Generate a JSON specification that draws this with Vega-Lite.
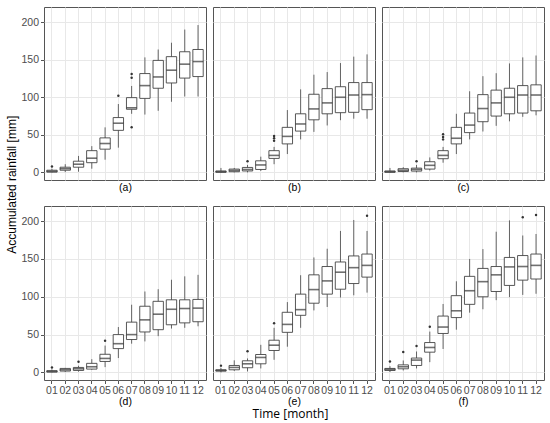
{
  "$schema": "https://vega.github.io/schema/vega-lite/v6.json",
  "background": "white",
  "padding": {"left": 6, "top": 6, "right": 5, "bottom": 4},
  "title": {"text": "Time [month]", "orient": "bottom", "anchor": "middle", "fontSize": 12, "fontWeight": "normal", "font": "Open Sans", "color": "black", "offset": 2, "dx": 15},
  "datasets": {
    "boxes": [
      {"panel": "a", "month": "01", "lower": 0, "q1": 0.5, "median": 1.5, "q3": 3, "upper": 5},
      {"panel": "a", "month": "02", "lower": 0.5, "q1": 3, "median": 5, "q3": 7, "upper": 11},
      {"panel": "a", "month": "03", "lower": 1, "q1": 7, "median": 11, "q3": 15, "upper": 22},
      {"panel": "a", "month": "04", "lower": 5, "q1": 13, "median": 19, "q3": 29, "upper": 35},
      {"panel": "a", "month": "05", "lower": 17, "q1": 31, "median": 38.5, "q3": 46, "upper": 60},
      {"panel": "a", "month": "06", "lower": 33, "q1": 56, "median": 65.5, "q3": 73, "upper": 91},
      {"panel": "a", "month": "07", "lower": 78, "q1": 84, "median": 86, "q3": 99.5, "upper": 115},
      {"panel": "a", "month": "08", "lower": 77, "q1": 98.5, "median": 115.5, "q3": 131.5, "upper": 153},
      {"panel": "a", "month": "09", "lower": 82, "q1": 112, "median": 127, "q3": 149, "upper": 163.5},
      {"panel": "a", "month": "10", "lower": 94, "q1": 119, "median": 136, "q3": 154, "upper": 172.5},
      {"panel": "a", "month": "11", "lower": 101, "q1": 125.5, "median": 144, "q3": 160.5, "upper": 190},
      {"panel": "a", "month": "12", "lower": 101, "q1": 127.5, "median": 147.5, "q3": 163.5, "upper": 196},
      {"panel": "b", "month": "01", "lower": 0, "q1": 0.3, "median": 1, "q3": 2, "upper": 6},
      {"panel": "b", "month": "02", "lower": 0, "q1": 1, "median": 2.7, "q3": 4.5, "upper": 6},
      {"panel": "b", "month": "03", "lower": 0, "q1": 2, "median": 4, "q3": 6.7, "upper": 10},
      {"panel": "b", "month": "04", "lower": 2, "q1": 4, "median": 10, "q3": 15.5, "upper": 21},
      {"panel": "b", "month": "05", "lower": 11, "q1": 18.7, "median": 22.7, "q3": 29, "upper": 34},
      {"panel": "b", "month": "06", "lower": 24.5, "q1": 38, "median": 48, "q3": 60, "upper": 83},
      {"panel": "b", "month": "07", "lower": 44, "q1": 55, "median": 64.5, "q3": 78, "upper": 110.5},
      {"panel": "b", "month": "08", "lower": 54, "q1": 70, "median": 84.5, "q3": 104, "upper": 130},
      {"panel": "b", "month": "09", "lower": 62.5, "q1": 78, "median": 92.5, "q3": 111.5, "upper": 133.5},
      {"panel": "b", "month": "10", "lower": 69.5, "q1": 79.5, "median": 100, "q3": 114, "upper": 145.5},
      {"panel": "b", "month": "11", "lower": 71.5, "q1": 80, "median": 103, "q3": 119.5, "upper": 154},
      {"panel": "b", "month": "12", "lower": 71.5, "q1": 83.5, "median": 103.5, "q3": 119.5, "upper": 157},
      {"panel": "c", "month": "01", "lower": 0, "q1": 0.3, "median": 1, "q3": 2, "upper": 6},
      {"panel": "c", "month": "02", "lower": 0, "q1": 1.3, "median": 3, "q3": 5, "upper": 7},
      {"panel": "c", "month": "03", "lower": 0, "q1": 1.8, "median": 4, "q3": 5.8, "upper": 10},
      {"panel": "c", "month": "04", "lower": 2.7, "q1": 4.5, "median": 9.5, "q3": 14.3, "upper": 20},
      {"panel": "c", "month": "05", "lower": 13, "q1": 18.3, "median": 22.7, "q3": 29, "upper": 34},
      {"panel": "c", "month": "06", "lower": 24.5, "q1": 38, "median": 45.5, "q3": 60, "upper": 78},
      {"panel": "c", "month": "07", "lower": 44, "q1": 53, "median": 63, "q3": 79, "upper": 108},
      {"panel": "c", "month": "08", "lower": 54.5, "q1": 67.5, "median": 85, "q3": 103.5, "upper": 128},
      {"panel": "c", "month": "09", "lower": 62, "q1": 75, "median": 92.5, "q3": 109.5, "upper": 132},
      {"panel": "c", "month": "10", "lower": 68, "q1": 78, "median": 100, "q3": 112, "upper": 145},
      {"panel": "c", "month": "11", "lower": 74, "q1": 79, "median": 103, "q3": 115.5, "upper": 153},
      {"panel": "c", "month": "12", "lower": 76, "q1": 82, "median": 103, "q3": 116.5, "upper": 155.5},
      {"panel": "d", "month": "01", "lower": 0, "q1": 0.5, "median": 1.3, "q3": 2.3, "upper": 4},
      {"panel": "d", "month": "02", "lower": 0.5, "q1": 1.8, "median": 3.5, "q3": 5.3, "upper": 6},
      {"panel": "d", "month": "03", "lower": 1, "q1": 2.6, "median": 4.8, "q3": 6.6, "upper": 8.8},
      {"panel": "d", "month": "04", "lower": 3.5, "q1": 4.4, "median": 7.5, "q3": 12, "upper": 17.5},
      {"panel": "d", "month": "05", "lower": 7, "q1": 14.5, "median": 18.5, "q3": 24, "upper": 35.5},
      {"panel": "d", "month": "06", "lower": 19, "q1": 31.5, "median": 38, "q3": 50, "upper": 60},
      {"panel": "d", "month": "07", "lower": 38, "q1": 43.5, "median": 50, "q3": 66.5, "upper": 89.5},
      {"panel": "d", "month": "08", "lower": 41, "q1": 53.5, "median": 69.5, "q3": 87.5, "upper": 107},
      {"panel": "d", "month": "09", "lower": 48, "q1": 56.5, "median": 77, "q3": 94, "upper": 110},
      {"panel": "d", "month": "10", "lower": 58, "q1": 63, "median": 83.5, "q3": 96, "upper": 122.5},
      {"panel": "d", "month": "11", "lower": 59, "q1": 65.5, "median": 84.5, "q3": 96, "upper": 127},
      {"panel": "d", "month": "12", "lower": 61, "q1": 67, "median": 85, "q3": 96.5, "upper": 129},
      {"panel": "e", "month": "01", "lower": 0, "q1": 1.8, "median": 2.6, "q3": 3.5, "upper": 6},
      {"panel": "e", "month": "02", "lower": 2, "q1": 3.5, "median": 6.6, "q3": 9.2, "upper": 16},
      {"panel": "e", "month": "03", "lower": 1.3, "q1": 6.2, "median": 11.4, "q3": 15.4, "upper": 18.5},
      {"panel": "e", "month": "04", "lower": 5.3, "q1": 11.4, "median": 19.8, "q3": 23.7, "upper": 36.5},
      {"panel": "e", "month": "05", "lower": 16.7, "q1": 29, "median": 36, "q3": 42.6, "upper": 59},
      {"panel": "e", "month": "06", "lower": 34, "q1": 53, "median": 63.5, "q3": 79.5, "upper": 93},
      {"panel": "e", "month": "07", "lower": 59, "q1": 75.5, "median": 83, "q3": 103.5, "upper": 128.5},
      {"panel": "e", "month": "08", "lower": 82, "q1": 91.5, "median": 109.5, "q3": 129, "upper": 152},
      {"panel": "e", "month": "09", "lower": 86.5, "q1": 103.5, "median": 121, "q3": 140, "upper": 163.5},
      {"panel": "e", "month": "10", "lower": 99, "q1": 110, "median": 132.5, "q3": 146, "upper": 187},
      {"panel": "e", "month": "11", "lower": 102, "q1": 117.5, "median": 138.5, "q3": 154, "upper": 201.5},
      {"panel": "e", "month": "12", "lower": 105.5, "q1": 126, "median": 141.5, "q3": 156.5, "upper": 187},
      {"panel": "f", "month": "01", "lower": 0.5, "q1": 2.6, "median": 4, "q3": 5.3, "upper": 8.3},
      {"panel": "f", "month": "02", "lower": 2.6, "q1": 4.8, "median": 7.5, "q3": 10, "upper": 15.8},
      {"panel": "f", "month": "03", "lower": 5.3, "q1": 9.2, "median": 16.3, "q3": 19, "upper": 27.7},
      {"panel": "f", "month": "04", "lower": 13.6, "q1": 26.8, "median": 33, "q3": 39.5, "upper": 54},
      {"panel": "f", "month": "05", "lower": 31, "q1": 51.5, "median": 60, "q3": 74.5, "upper": 90.5},
      {"panel": "f", "month": "06", "lower": 56.5, "q1": 72.5, "median": 81.5, "q3": 101.5, "upper": 120.5},
      {"panel": "f", "month": "07", "lower": 79, "q1": 90, "median": 108, "q3": 127, "upper": 150},
      {"panel": "f", "month": "08", "lower": 83.5, "q1": 100, "median": 120, "q3": 137.5, "upper": 163},
      {"panel": "f", "month": "09", "lower": 95.5, "q1": 107, "median": 129, "q3": 140, "upper": 186},
      {"panel": "f", "month": "10", "lower": 99.5, "q1": 115, "median": 139.5, "q3": 152, "upper": 201},
      {"panel": "f", "month": "11", "lower": 102.5, "q1": 122, "median": 140, "q3": 154.5, "upper": 181},
      {"panel": "f", "month": "12", "lower": 104, "q1": 123.5, "median": 141.5, "q3": 156.5, "upper": 183}
    ],
    "outliers": [
      {"panel": "a", "month": "01", "value": 8},
      {"panel": "a", "month": "06", "value": 102},
      {"panel": "a", "month": "07", "value": 126},
      {"panel": "a", "month": "07", "value": 131},
      {"panel": "a", "month": "07", "value": 60},
      {"panel": "b", "month": "03", "value": 15},
      {"panel": "b", "month": "05", "value": 42.3},
      {"panel": "b", "month": "05", "value": 45.4},
      {"panel": "b", "month": "05", "value": 48.5},
      {"panel": "c", "month": "03", "value": 15},
      {"panel": "c", "month": "05", "value": 44},
      {"panel": "c", "month": "05", "value": 47.2},
      {"panel": "c", "month": "05", "value": 50.8},
      {"panel": "d", "month": "01", "value": 6.5},
      {"panel": "d", "month": "03", "value": 14},
      {"panel": "d", "month": "05", "value": 42},
      {"panel": "e", "month": "01", "value": 9},
      {"panel": "e", "month": "03", "value": 28},
      {"panel": "e", "month": "05", "value": 65},
      {"panel": "e", "month": "12", "value": 207},
      {"panel": "f", "month": "01", "value": 14.5},
      {"panel": "f", "month": "02", "value": 27},
      {"panel": "f", "month": "03", "value": 35},
      {"panel": "f", "month": "04", "value": 60.5},
      {"panel": "f", "month": "11", "value": 205},
      {"panel": "f", "month": "12", "value": 208}
    ]
  },
  "vconcat": [
    {
      "title": {"text": "Accumulated rainfall [mm]", "orient": "left", "anchor": "middle", "fontSize": 12, "fontWeight": "normal", "color": "black", "offset": 1, "dx": 22},
      "spacing": 12,
      "vconcat": [
        {
          "spacing": 5,
          "hconcat": [
            {
              "width": 162, "height": 173,
              "layer": [
                {
                  "data": {"name": "boxes"},
                  "transform": [{"filter": "datum.panel === 'a'"}],
                  "encoding": {"x": {"field": "month", "type": "ordinal", "scale": {"paddingInner": 0.22, "paddingOuter": 0.21}, "axis": {"labels": false, "ticks": false, "grid": true, "bandPosition": 0.5, "title": "(a)", "titlePadding": 2}}},
                  "layer": [
                    {"mark": {"type": "rule", "color": "#555", "strokeWidth": 0.9}, "encoding": {"y": {"field": "lower", "type": "quantitative", "scale": {"domain": [-10, 220], "nice": false, "zero": false}, "axis": {"values": [0, 25, 50, 75, 100, 125, 150, 175, 200], "labelExpr": "datum.value % 50 === 0 ? datum.label : ''", "labelOverlap": false, "tickOpacity": {"condition": {"test": "datum.value % 50 === 0", "value": 1}, "value": 0}, "gridWidth": {"condition": {"test": "datum.value % 50 === 0", "value": 1}, "value": 0.5}, "title": null}}, "y2": {"field": "upper"}}},
                    {"mark": {"type": "bar", "fill": "white", "stroke": "#444", "strokeWidth": 0.9}, "encoding": {"y": {"field": "q1", "type": "quantitative", "scale": {"domain": [-10, 220], "nice": false, "zero": false}}, "y2": {"field": "q3"}}},
                    {"mark": {"type": "tick", "color": "#333", "thickness": 1.6, "size": 10.4}, "encoding": {"y": {"field": "median", "type": "quantitative", "scale": {"domain": [-10, 220], "nice": false, "zero": false}}}}
                  ]
                },
                {
                  "data": {"name": "outliers"},
                  "transform": [{"filter": "datum.panel === 'a'"}],
                  "mark": {"type": "point", "filled": true, "size": 6, "color": "#333", "opacity": 1},
                  "encoding": {"x": {"field": "month", "type": "ordinal"}, "y": {"field": "value", "type": "quantitative", "scale": {"domain": [-10, 220], "nice": false, "zero": false}}}
                }
              ]
            },
            {
              "width": 162, "height": 173,
              "layer": [
                {
                  "data": {"name": "boxes"},
                  "transform": [{"filter": "datum.panel === 'b'"}],
                  "encoding": {"x": {"field": "month", "type": "ordinal", "scale": {"paddingInner": 0.22, "paddingOuter": 0.21}, "axis": {"labels": false, "ticks": false, "grid": true, "bandPosition": 0.5, "title": "(b)", "titlePadding": 2}}},
                  "layer": [
                    {"mark": {"type": "rule", "color": "#555", "strokeWidth": 0.9}, "encoding": {"y": {"field": "lower", "type": "quantitative", "scale": {"domain": [-10, 220], "nice": false, "zero": false}, "axis": {"values": [0, 25, 50, 75, 100, 125, 150, 175, 200], "labels": false, "ticks": false, "gridWidth": {"condition": {"test": "datum.value % 50 === 0", "value": 1}, "value": 0.5}, "title": null}}, "y2": {"field": "upper"}}},
                    {"mark": {"type": "bar", "fill": "white", "stroke": "#444", "strokeWidth": 0.9}, "encoding": {"y": {"field": "q1", "type": "quantitative", "scale": {"domain": [-10, 220], "nice": false, "zero": false}}, "y2": {"field": "q3"}}},
                    {"mark": {"type": "tick", "color": "#333", "thickness": 1.6, "size": 10.4}, "encoding": {"y": {"field": "median", "type": "quantitative", "scale": {"domain": [-10, 220], "nice": false, "zero": false}}}}
                  ]
                },
                {
                  "data": {"name": "outliers"},
                  "transform": [{"filter": "datum.panel === 'b'"}],
                  "mark": {"type": "point", "filled": true, "size": 6, "color": "#333", "opacity": 1},
                  "encoding": {"x": {"field": "month", "type": "ordinal"}, "y": {"field": "value", "type": "quantitative", "scale": {"domain": [-10, 220], "nice": false, "zero": false}}}
                }
              ]
            },
            {
              "width": 162, "height": 173,
              "layer": [
                {
                  "data": {"name": "boxes"},
                  "transform": [{"filter": "datum.panel === 'c'"}],
                  "encoding": {"x": {"field": "month", "type": "ordinal", "scale": {"paddingInner": 0.22, "paddingOuter": 0.21}, "axis": {"labels": false, "ticks": false, "grid": true, "bandPosition": 0.5, "title": "(c)", "titlePadding": 2}}},
                  "layer": [
                    {"mark": {"type": "rule", "color": "#555", "strokeWidth": 0.9}, "encoding": {"y": {"field": "lower", "type": "quantitative", "scale": {"domain": [-10, 220], "nice": false, "zero": false}, "axis": {"values": [0, 25, 50, 75, 100, 125, 150, 175, 200], "labels": false, "ticks": false, "gridWidth": {"condition": {"test": "datum.value % 50 === 0", "value": 1}, "value": 0.5}, "title": null}}, "y2": {"field": "upper"}}},
                    {"mark": {"type": "bar", "fill": "white", "stroke": "#444", "strokeWidth": 0.9}, "encoding": {"y": {"field": "q1", "type": "quantitative", "scale": {"domain": [-10, 220], "nice": false, "zero": false}}, "y2": {"field": "q3"}}},
                    {"mark": {"type": "tick", "color": "#333", "thickness": 1.6, "size": 10.4}, "encoding": {"y": {"field": "median", "type": "quantitative", "scale": {"domain": [-10, 220], "nice": false, "zero": false}}}}
                  ]
                },
                {
                  "data": {"name": "outliers"},
                  "transform": [{"filter": "datum.panel === 'c'"}],
                  "mark": {"type": "point", "filled": true, "size": 6, "color": "#333", "opacity": 1},
                  "encoding": {"x": {"field": "month", "type": "ordinal"}, "y": {"field": "value", "type": "quantitative", "scale": {"domain": [-10, 220], "nice": false, "zero": false}}}
                }
              ]
            }
          ]
        },
        {
          "spacing": 5,
          "hconcat": [
            {
              "width": 162, "height": 174,
              "layer": [
                {
                  "data": {"name": "boxes"},
                  "transform": [{"filter": "datum.panel === 'd'"}],
                  "encoding": {"x": {"field": "month", "type": "ordinal", "scale": {"paddingInner": 0.22, "paddingOuter": 0.21}, "axis": {"labelAngle": 0, "labelOverlap": false, "labelFlush": false, "grid": true, "bandPosition": 0.5, "title": "(d)", "titlePadding": 0}}},
                  "layer": [
                    {"mark": {"type": "rule", "color": "#555", "strokeWidth": 0.9}, "encoding": {"y": {"field": "lower", "type": "quantitative", "scale": {"domain": [-10, 220], "nice": false, "zero": false}, "axis": {"values": [0, 25, 50, 75, 100, 125, 150, 175, 200], "labelExpr": "datum.value % 50 === 0 ? datum.label : ''", "labelOverlap": false, "tickOpacity": {"condition": {"test": "datum.value % 50 === 0", "value": 1}, "value": 0}, "gridWidth": {"condition": {"test": "datum.value % 50 === 0", "value": 1}, "value": 0.5}, "title": null}}, "y2": {"field": "upper"}}},
                    {"mark": {"type": "bar", "fill": "white", "stroke": "#444", "strokeWidth": 0.9}, "encoding": {"y": {"field": "q1", "type": "quantitative", "scale": {"domain": [-10, 220], "nice": false, "zero": false}}, "y2": {"field": "q3"}}},
                    {"mark": {"type": "tick", "color": "#333", "thickness": 1.6, "size": 10.4}, "encoding": {"y": {"field": "median", "type": "quantitative", "scale": {"domain": [-10, 220], "nice": false, "zero": false}}}}
                  ]
                },
                {
                  "data": {"name": "outliers"},
                  "transform": [{"filter": "datum.panel === 'd'"}],
                  "mark": {"type": "point", "filled": true, "size": 6, "color": "#333", "opacity": 1},
                  "encoding": {"x": {"field": "month", "type": "ordinal"}, "y": {"field": "value", "type": "quantitative", "scale": {"domain": [-10, 220], "nice": false, "zero": false}}}
                }
              ]
            },
            {
              "width": 162, "height": 174,
              "layer": [
                {
                  "data": {"name": "boxes"},
                  "transform": [{"filter": "datum.panel === 'e'"}],
                  "encoding": {"x": {"field": "month", "type": "ordinal", "scale": {"paddingInner": 0.22, "paddingOuter": 0.21}, "axis": {"labelAngle": 0, "labelOverlap": false, "labelFlush": false, "grid": true, "bandPosition": 0.5, "title": "(e)", "titlePadding": 0}}},
                  "layer": [
                    {"mark": {"type": "rule", "color": "#555", "strokeWidth": 0.9}, "encoding": {"y": {"field": "lower", "type": "quantitative", "scale": {"domain": [-10, 220], "nice": false, "zero": false}, "axis": {"values": [0, 25, 50, 75, 100, 125, 150, 175, 200], "labels": false, "ticks": false, "gridWidth": {"condition": {"test": "datum.value % 50 === 0", "value": 1}, "value": 0.5}, "title": null}}, "y2": {"field": "upper"}}},
                    {"mark": {"type": "bar", "fill": "white", "stroke": "#444", "strokeWidth": 0.9}, "encoding": {"y": {"field": "q1", "type": "quantitative", "scale": {"domain": [-10, 220], "nice": false, "zero": false}}, "y2": {"field": "q3"}}},
                    {"mark": {"type": "tick", "color": "#333", "thickness": 1.6, "size": 10.4}, "encoding": {"y": {"field": "median", "type": "quantitative", "scale": {"domain": [-10, 220], "nice": false, "zero": false}}}}
                  ]
                },
                {
                  "data": {"name": "outliers"},
                  "transform": [{"filter": "datum.panel === 'e'"}],
                  "mark": {"type": "point", "filled": true, "size": 6, "color": "#333", "opacity": 1},
                  "encoding": {"x": {"field": "month", "type": "ordinal"}, "y": {"field": "value", "type": "quantitative", "scale": {"domain": [-10, 220], "nice": false, "zero": false}}}
                }
              ]
            },
            {
              "width": 162, "height": 174,
              "layer": [
                {
                  "data": {"name": "boxes"},
                  "transform": [{"filter": "datum.panel === 'f'"}],
                  "encoding": {"x": {"field": "month", "type": "ordinal", "scale": {"paddingInner": 0.22, "paddingOuter": 0.21}, "axis": {"labelAngle": 0, "labelOverlap": false, "labelFlush": false, "grid": true, "bandPosition": 0.5, "title": "(f)", "titlePadding": 0}}},
                  "layer": [
                    {"mark": {"type": "rule", "color": "#555", "strokeWidth": 0.9}, "encoding": {"y": {"field": "lower", "type": "quantitative", "scale": {"domain": [-10, 220], "nice": false, "zero": false}, "axis": {"values": [0, 25, 50, 75, 100, 125, 150, 175, 200], "labels": false, "ticks": false, "gridWidth": {"condition": {"test": "datum.value % 50 === 0", "value": 1}, "value": 0.5}, "title": null}}, "y2": {"field": "upper"}}},
                    {"mark": {"type": "bar", "fill": "white", "stroke": "#444", "strokeWidth": 0.9}, "encoding": {"y": {"field": "q1", "type": "quantitative", "scale": {"domain": [-10, 220], "nice": false, "zero": false}}, "y2": {"field": "q3"}}},
                    {"mark": {"type": "tick", "color": "#333", "thickness": 1.6, "size": 10.4}, "encoding": {"y": {"field": "median", "type": "quantitative", "scale": {"domain": [-10, 220], "nice": false, "zero": false}}}}
                  ]
                },
                {
                  "data": {"name": "outliers"},
                  "transform": [{"filter": "datum.panel === 'f'"}],
                  "mark": {"type": "point", "filled": true, "size": 6, "color": "#333", "opacity": 1},
                  "encoding": {"x": {"field": "month", "type": "ordinal"}, "y": {"field": "value", "type": "quantitative", "scale": {"domain": [-10, 220], "nice": false, "zero": false}}}
                }
              ]
            }
          ]
        }
      ]
    }
  ],
  "config": {
    "font": "Liberation Sans",
    "view": {"stroke": "#555", "strokeWidth": 1, "fill": "white"},
    "axis": {
      "domain": false,
      "labelColor": "#4d4d4d",
      "labelFontSize": 10.5,
      "labelPadding": 2,
      "tickColor": "#555",
      "tickSize": 3.5,
      "gridColor": "#e8e8e8",
      "titleColor": "black",
      "titleFontWeight": "normal",
      "titleFontSize": 10.5
    }
  }
}
